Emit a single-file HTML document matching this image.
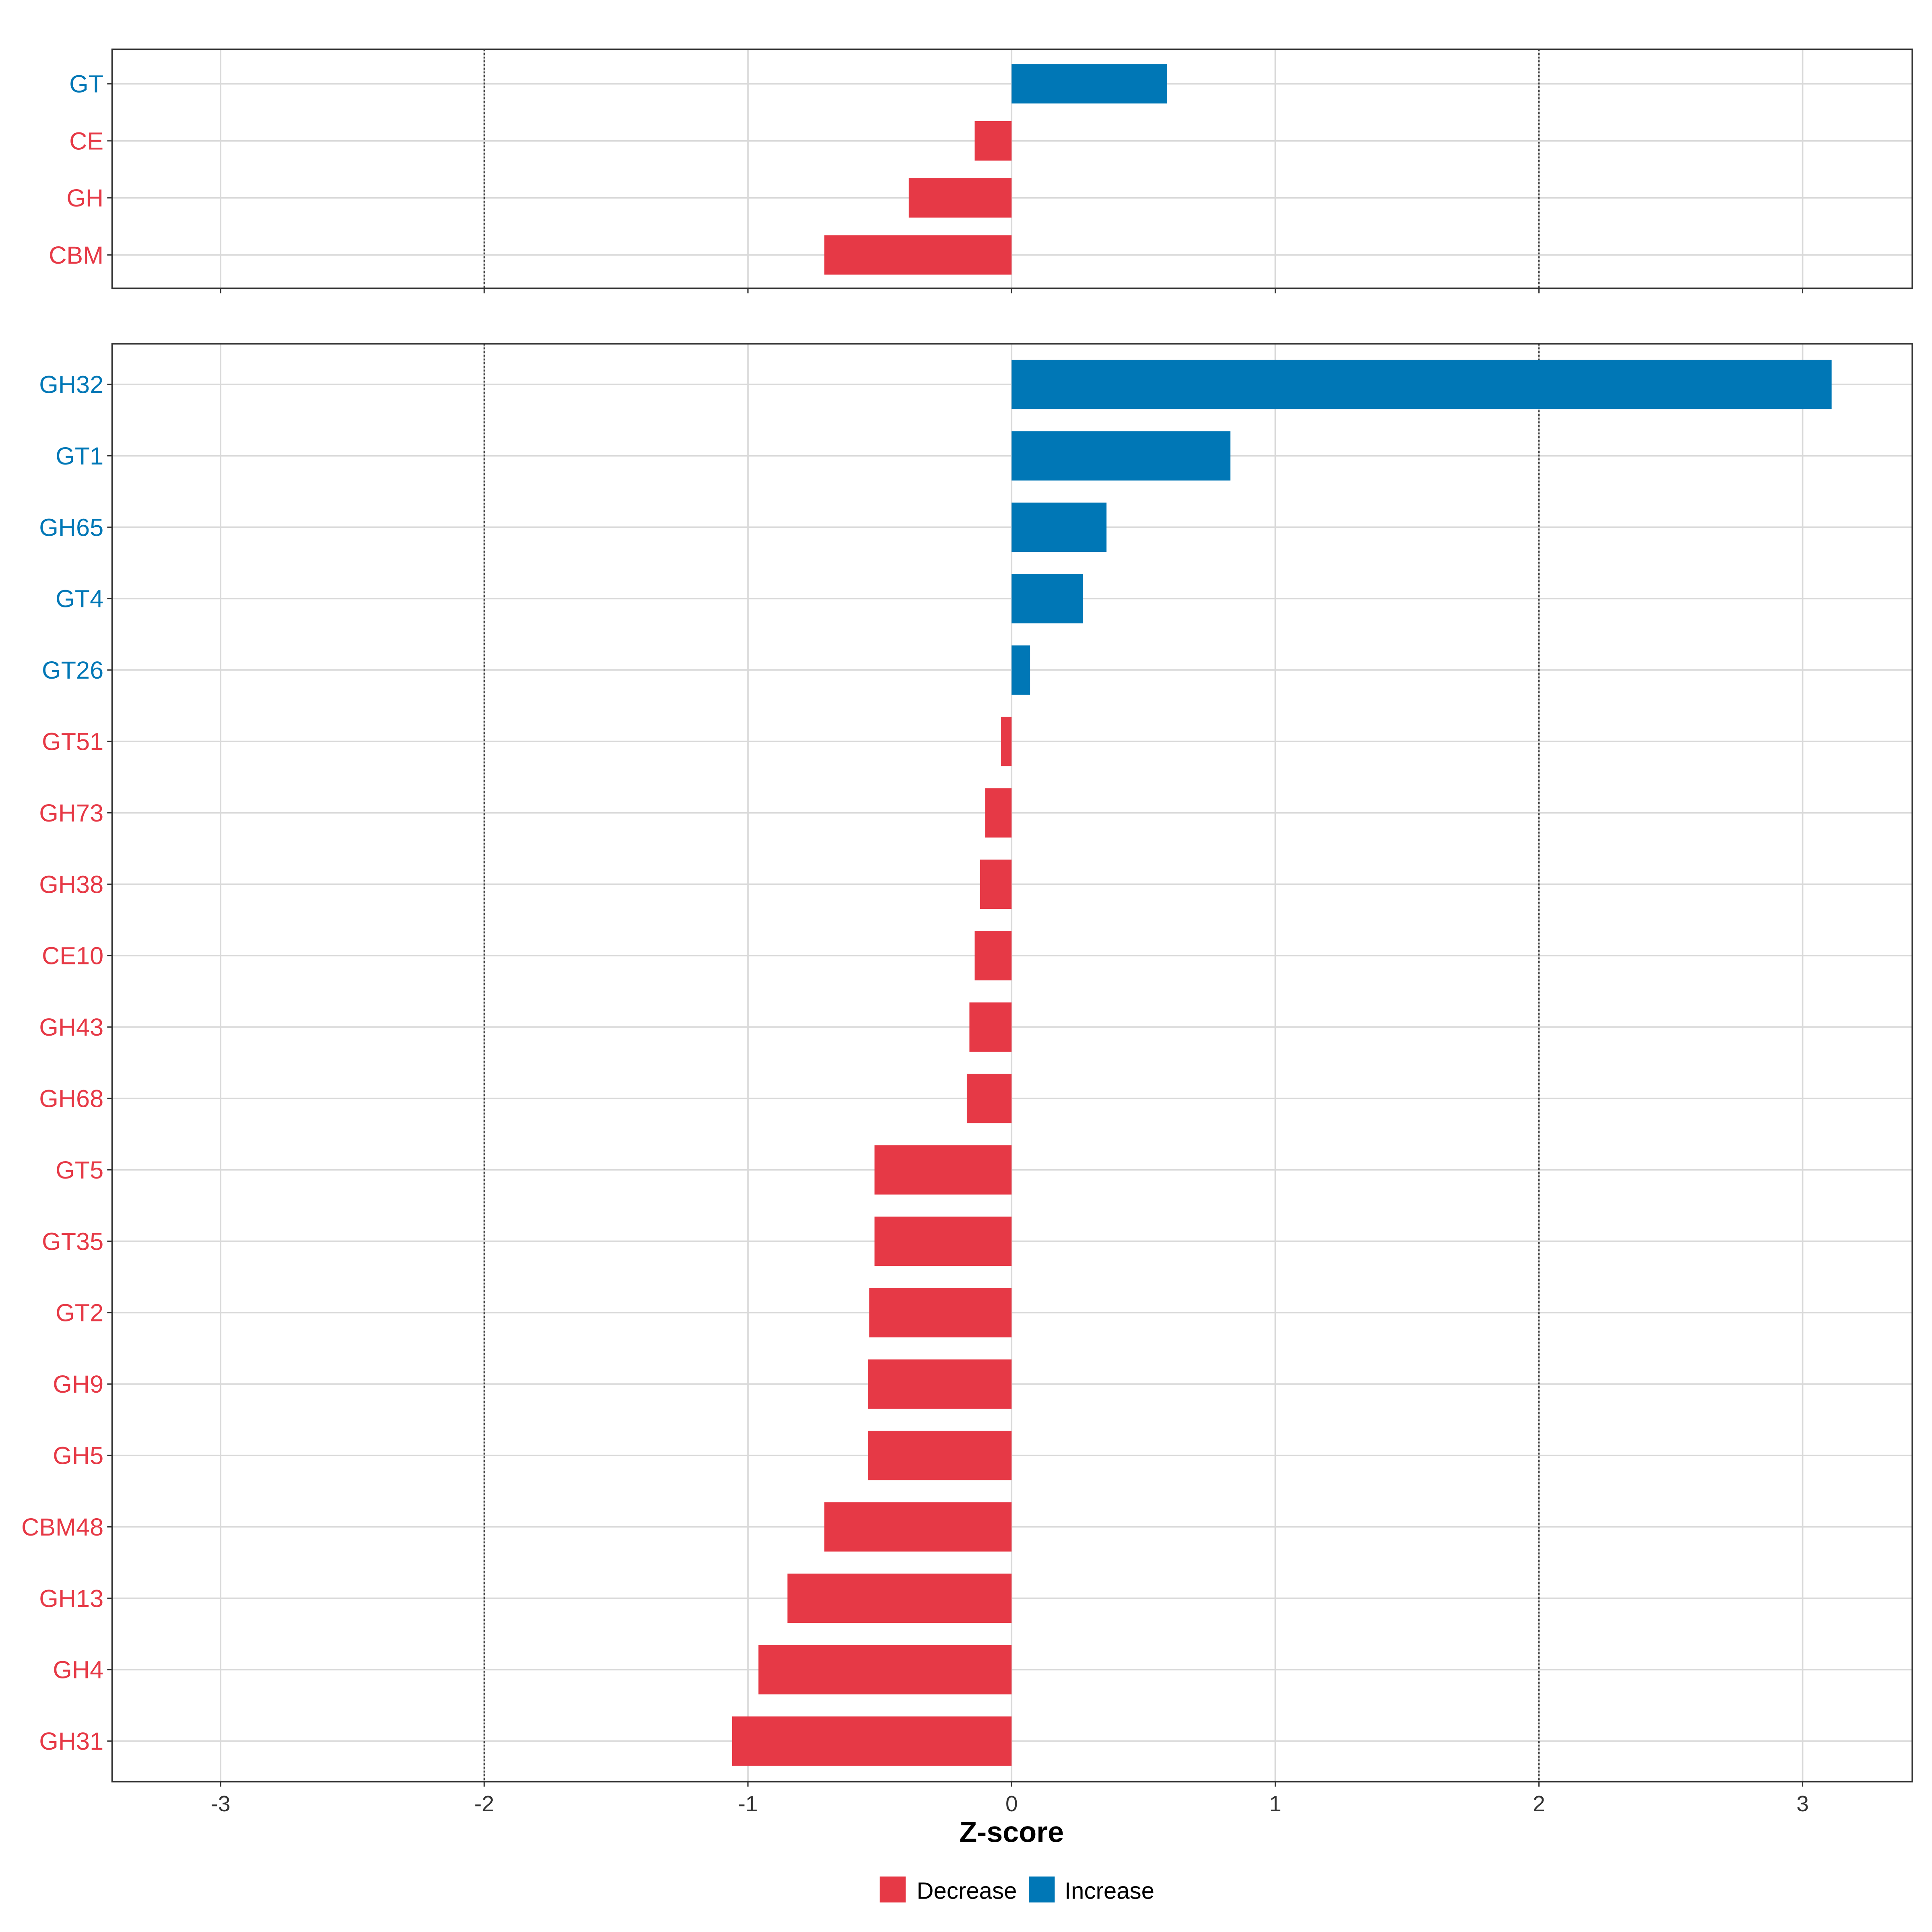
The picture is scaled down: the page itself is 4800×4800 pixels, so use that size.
<!DOCTYPE html>
<html><head><meta charset="utf-8"><style>
html,body{margin:0;padding:0;background:#fff}
svg{display:block}
text{font-family:"Liberation Sans",sans-serif}
</style></head><body>
<svg id="chart" width="4800" height="4800" viewBox="0 0 1568 1568" xmlns="http://www.w3.org/2000/svg">
<rect width="1568" height="1568" fill="#fff"/>
</svg>
<script>
const topCats = ["GT","CE","GH","CBM"];
const topVals = [0.59,-0.14,-0.39,-0.71];
const botCats = ["GH32","GT1","GH65","GT4","GT26","GT51","GH73","GH38","CE10","GH43","GH68","GT5","GT35","GT2","GH9","GH5","CBM48","GH13","GH4","GH31"];
const botVals = [3.11,0.83,0.36,0.27,0.07,-0.04,-0.10,-0.12,-0.14,-0.16,-0.17,-0.52,-0.52,-0.54,-0.545,-0.545,-0.71,-0.85,-0.96,-1.06];
const xTicks = [-3,-2,-1,0,1,2,3];
const xTickLabels = ["-3","-2","-1","0","1","2","3"];

const NS="http://www.w3.org/2000/svg";
const svg=document.getElementById('chart');
const RED="#E63946", BLUE="#0077B6";
const L=91,R=1552;
function xs(v){return 821+v*214;}
function mk(tag,attrs,parent){const e=document.createElementNS(NS,tag);for(const k in attrs)e.setAttribute(k,attrs[k]);(parent||svg).appendChild(e);return e;}

function panel(name,cats,vals,top,bottom,first,step,bh){
  const g=mk('g',{});
  
  
  xTicks.forEach(t=>{
    const l=mk('line',{x1:xs(t),x2:xs(t),y1:top,y2:bottom,stroke:"#d9d9d9","stroke-width":1.2},g);
    
    
  });
  cats.forEach((c,i)=>{
    const y=first+i*step;
    const l=mk('line',{x1:L,x2:R,y1:y,y2:y,stroke:"#d9d9d9","stroke-width":1.2},g);
    
    
  });
  [-2,2].forEach(t=>{
    const l=mk('line',{x1:xs(t),x2:xs(t),y1:top,y2:bottom,stroke:"#333","stroke-width":1,"stroke-dasharray":"1.5,1.5"},g);
    
    
  });
  cats.forEach((c,i)=>{
    const y=first+i*step, v=vals[i], col=v>=0?BLUE:RED;
    const x0=Math.min(xs(0),xs(v)), w=Math.abs(xs(v)-xs(0));
    const b=mk('rect',{x:x0,y:y-bh/2,width:w,height:bh,fill:col},g);
    
    
    const tk=mk('line',{x1:L-4,x2:L,y1:y,y2:y,stroke:"#333","stroke-width":1},g);
    
    
    const t=mk('text',{x:L-7,y:y+7,"text-anchor":"end","font-size":20,fill:col},g);
    t.textContent=c;
    
    
  });
  xTicks.forEach(t=>{
    const l=mk('line',{x1:xs(t),x2:xs(t),y1:bottom,y2:bottom+4,stroke:"#333","stroke-width":1},g);
    
    
  });
  const fr=mk('rect',{x:L,y:top,width:R-L,height:bottom-top,fill:"none",stroke:"#333","stroke-width":1.2},g);
  
  
}
panel('top',topCats,topVals,40,234,68,46.3,32);
panel('bottom',botCats,botVals,279,1446,312,57.95,40);

xTicks.forEach((t,i)=>{
  const e=mk('text',{x:xs(t),y:1470,"text-anchor":"middle","font-size":18,fill:"#333"});
  e.textContent=xTickLabels[i];
  
  
});
const title=mk('text',{x:821,y:1495,"text-anchor":"middle","font-size":23.5,"font-weight":"bold",fill:"#000"});
title.textContent="Z-score";



const lg=mk('g',{});


[[714,RED,"Decrease",744],[835,BLUE,"Increase",864]].forEach(([x,c,lab,tx])=>{
  const r=mk('rect',{x:x,y:1523,width:21,height:21,fill:c},lg);
  
  
  const t=mk('text',{x:tx,y:1541,"font-size":19,fill:"#000"},lg);
  t.textContent=lab;
  
  
});
</script>
</body></html>
